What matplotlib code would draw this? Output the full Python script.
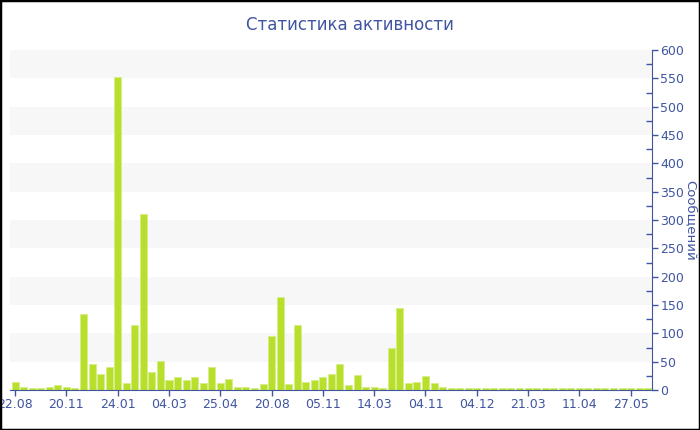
import matplotlib.pyplot as plt
from matplotlib.patches import Rectangle
from matplotlib.ticker import MultipleLocator

values = [14, 5, 4, 3, 5, 9, 5, 4, 134, 46, 28, 41, 552, 13, 115, 310, 31, 52,
          18, 23, 17, 23, 13, 40, 13, 20, 5, 5, 4, 11, 95, 165, 10, 114, 15, 18,
          23, 28, 46, 9, 26, 5, 6, 4, 74, 144, 12, 15, 24, 12, 5, 4, 4, 4,
          3, 3, 3, 3, 3, 3, 3, 3, 3, 3, 3, 3, 3, 3, 3, 3, 3, 3, 3, 3, 3]
tick_labels = ["22.08", "20.11", "24.01", "04.03", "25.04", "20.08", "05.11",
               "14.03", "04.11", "04.12", "21.03", "11.04", "27.05"]
tick_step = 6

blue = "#3f55a0"
bar_color = "#b8df2c"

fig = plt.figure(figsize=(7, 4.3), dpi=100)
ax = fig.add_axes([10 / 700, 1 - 390 / 430, 642 / 700, 340 / 430])

# alternating bands
for lo in range(50, 600, 100):
    ax.axhspan(lo, lo + 50, color="#f7f7f7", zorder=0, lw=0)

x = list(range(len(values)))
ax.bar(x, values, width=0.82, color=bar_color, edgecolor="#d6ee86",
       linewidth=0.6, zorder=2)

ax.set_xlim(-0.6, len(values) - 0.5)
ax.set_ylim(0, 600)

ax.set_xticks(x[::tick_step])
ax.set_xticklabels(tick_labels)
ax.tick_params(axis="x", colors=blue, labelsize=9, length=4, width=1, pad=2)

ax.yaxis.tick_right()
ax.yaxis.set_major_locator(MultipleLocator(50))
ax.yaxis.set_minor_locator(MultipleLocator(25))
ax.tick_params(axis="y", which="major", colors=blue, labelsize=9, length=4,
               width=1, pad=2)
ax.tick_params(axis="y", which="minor", colors=blue, length=4, width=1,
               direction="in")
ax.set_ylabel("Сообщений", color=blue, fontsize=9.5, rotation=270,
              va="center", ha="center")
ax.yaxis.set_label_coords((690 - 10) / 642, 0.5)

for side in ["top", "left"]:
    ax.spines[side].set_visible(False)
ax.spines["bottom"].set_color(blue)
ax.spines["right"].set_color(blue)

fig.text(0.5, 1 - 25 / 430, "Статистика активности", color=blue,
         fontsize=12, ha="center", va="center")

fig.patches.append(Rectangle((0, 0), 1, 1, transform=fig.transFigure,
                             fill=False, edgecolor="black", linewidth=2.5))

fig.savefig("out.png", dpi=100)
